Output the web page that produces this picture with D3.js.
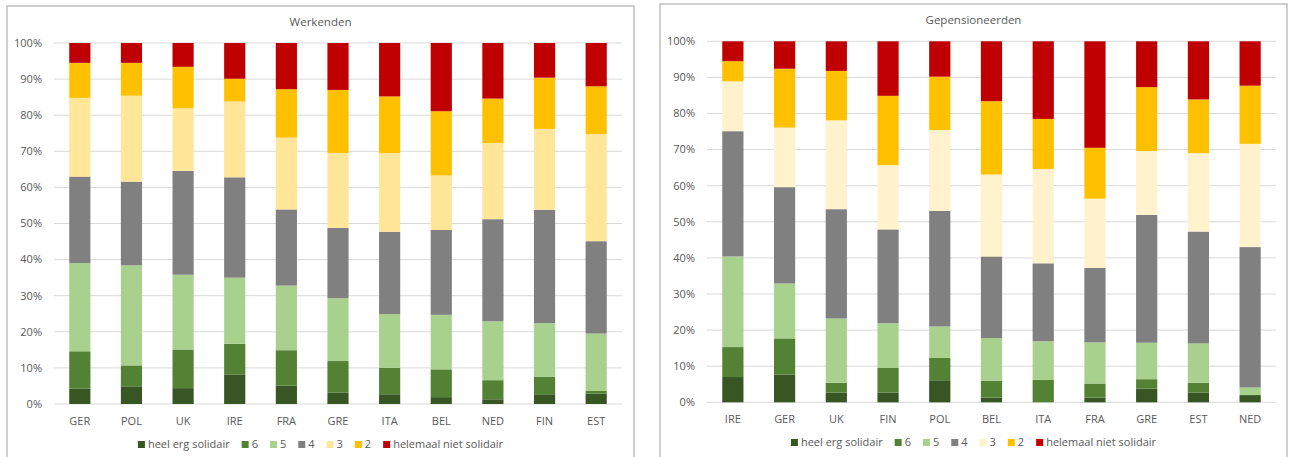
<!DOCTYPE html>
<html>
<head>
<meta charset="utf-8">
<script src="https://cdn.jsdelivr.net/npm/d3@7"></script>
<style>
  body { margin: 0; background: #fff; }
  svg { font-family: "Open Sans", "Liberation Sans", sans-serif; }
</style>
</head>
<body>
<svg id="chart" width="1292" height="457"></svg>
<script>
// legend labels, from bottom segment to top segment
const categories = ["heel erg solidair", "6", "5", "4", "3", "2", "helemaal niet solidair"];

// Werkenden
const countriesWork = ["GER", "POL", "UK", "IRE", "FRA", "GRE", "ITA", "BEL", "NED", "FIN", "EST"];
const valuesWork = [
  [4.3, 10.3, 24.4, 24.0, 21.8, 9.7, 5.5],
  [4.9, 5.8, 27.7, 23.2, 23.8, 9.1, 5.5],
  [4.4, 10.7, 20.7, 28.8, 17.3, 11.5, 6.6],
  [8.2, 8.5, 18.3, 27.8, 21.0, 6.3, 9.9],
  [5.1, 9.8, 17.9, 21.1, 19.9, 13.4, 12.8],
  [3.2, 8.7, 17.4, 19.5, 20.7, 17.5, 13.0],
  [2.7, 7.3, 14.9, 22.8, 21.8, 15.7, 14.8],
  [1.9, 7.7, 15.1, 23.5, 15.1, 17.8, 18.9],
  [1.3, 5.3, 16.3, 28.3, 21.1, 12.3, 15.4],
  [2.7, 4.8, 14.9, 31.4, 22.4, 14.2, 9.6],
  [2.9, 0.7, 15.9, 25.6, 29.7, 13.2, 12.0]
];

// Gepensioneerden
const countriesRet = ["IRE", "GER", "UK", "FIN", "POL", "BEL", "ITA", "FRA", "GRE", "EST", "NED"];
const valuesRet = [
  [7.0, 8.3, 25.1, 34.7, 13.8, 5.6, 5.5],
  [7.7, 10.0, 15.2, 26.7, 16.5, 16.3, 7.6],
  [2.7, 2.7, 17.8, 30.3, 24.6, 13.7, 8.2],
  [2.7, 6.8, 12.4, 26.0, 17.8, 19.2, 15.1],
  [6.1, 6.2, 8.7, 32.0, 22.4, 14.8, 9.8],
  [1.3, 4.7, 11.8, 22.6, 22.7, 20.3, 16.6],
  [0, 6.2, 10.7, 21.6, 26.1, 13.9, 21.5],
  [1.3, 3.9, 11.4, 20.6, 19.2, 14.1, 29.5],
  [3.8, 2.6, 10.1, 35.4, 17.7, 17.7, 12.7],
  [2.7, 2.7, 10.9, 31.0, 21.7, 14.9, 16.1],
  [2.0, 0, 2.1, 38.9, 28.6, 16.1, 12.3]
];

const yTicks = [0, 10, 20, 30, 40, 50, 60, 70, 80, 90, 100];

const colorsWork = ["#375623", "#548235", "#A9D18E", "#808080", "#FFE699", "#FFC000", "#C00000"];
const colorsRet = ["#375623", "#548235", "#A9D18E", "#808080", "#FFF2CC", "#FFC000", "#C00000"];

const svg = d3.select("#chart");

function drawPanel(opts) {
  const g = svg.append("g");

  // panel frame
  g.append("rect")
    .attr("x", opts.box[0]).attr("y", opts.box[1])
    .attr("width", opts.box[2] - opts.box[0]).attr("height", 470)
    .attr("fill", "#fff").attr("stroke", "#BFBFBF").attr("stroke-width", 1.5);

  g.append("text")
    .attr("x", (opts.box[0] + opts.box[2]) / 2).attr("y", opts.titleY)
    .attr("text-anchor", "middle")
    .style("font-size", "11.5px").style("fill", "#595959")
    .text(opts.title);

  const x = d3.scaleBand()
    .domain(opts.countries)
    .range([opts.left, opts.right])
    .paddingInner(0.59).paddingOuter(0.295);

  const y = d3.scaleLinear().domain([0, 100]).range([opts.bottom, opts.top]);

  // gridlines
  g.selectAll("line.grid")
    .data(yTicks)
    .join("line")
    .attr("class", "grid")
    .attr("x1", opts.left).attr("x2", opts.right)
    .attr("y1", d => y(d)).attr("y2", d => y(d))
    .attr("stroke", "#D9D9D9").attr("stroke-width", 1);

  // y labels
  g.selectAll("text.ytick")
    .data(yTicks)
    .join("text")
    .attr("class", "ytick")
    .attr("x", opts.left - 12).attr("y", d => y(d))
    .attr("dy", "0.35em")
    .attr("text-anchor", "end")
    .style("font-size", "11px").style("fill", "#595959")
    .text(d => d + "%");

  // stacked bars
  const rows = opts.countries.map((c, i) => {
    const r = { country: c };
    categories.forEach((k, j) => r[k] = opts.values[i][j]);
    return r;
  });
  const stacked = d3.stack().keys(categories)(rows);

  g.selectAll("g.layer")
    .data(stacked)
    .join("g")
    .attr("class", "layer")
    .attr("fill", (d, i) => opts.colors[i])
    .selectAll("rect")
    .data(d => d)
    .join("rect")
    .attr("x", d => x(d.data.country))
    .attr("width", x.bandwidth())
    .attr("y", d => y(d[1]))
    .attr("height", d => y(d[0]) - y(d[1]));

  // x labels
  g.selectAll("text.xtick")
    .data(opts.countries)
    .join("text")
    .attr("class", "xtick")
    .attr("x", d => x(d) + x.bandwidth() / 2)
    .attr("y", opts.bottom + 21)
    .attr("text-anchor", "middle")
    .style("font-size", "11px").style("fill", "#595959")
    .text(d => d);

  // legend
  const leg = g.append("g");
  let pos = 0;
  categories.forEach((c, i) => {
    const item = leg.append("g").attr("transform", `translate(${pos},0)`);
    item.append("rect")
      .attr("x", 0).attr("y", -7)
      .attr("width", 7).attr("height", 7)
      .attr("fill", opts.colors[i]);
    const t = item.append("text")
      .attr("x", 10).attr("y", 0)
      .style("font-size", "11px").style("fill", "#595959")
      .text(c);
    pos += 10 + t.node().getComputedTextLength() + 12;
  });
  const legW = pos - 12;
  leg.attr("transform", `translate(${(opts.box[0] + opts.box[2]) / 2 - legW / 2},${opts.legendY})`);
}

drawPanel({
  title: "Werkenden",
  box: [7, 6, 634],
  titleY: 26,
  countries: countriesWork,
  values: valuesWork,
  colors: colorsWork,
  left: 54, right: 622, top: 43, bottom: 404,
  legendY: 448
});

drawPanel({
  title: "Gepensioneerden",
  box: [660, 4, 1287],
  titleY: 24,
  countries: countriesRet,
  values: valuesRet,
  colors: colorsRet,
  left: 707, right: 1276, top: 41.3, bottom: 402.3,
  legendY: 446
});
</script>
</body>
</html>
